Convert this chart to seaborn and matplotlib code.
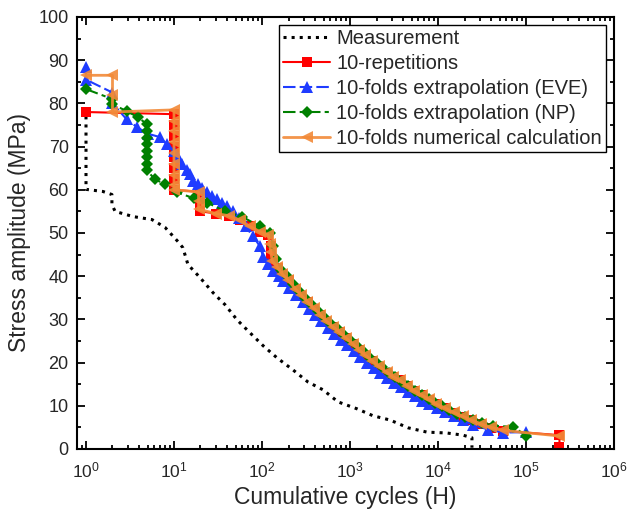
import numpy as np
import pandas as pd
import matplotlib
matplotlib.use("Agg")
import matplotlib.pyplot as plt
import matplotlib.ticker as mticker
import seaborn as sns

# values
meas_x = [1, 1, 1.56, 1.97, 1.97, 2.14, 3.42, 5.62, 7.9, 11.1, 12.6, 14.4, 19.7, 27.7, 38, 52, 73,
          103, 148, 225, 333, 493, 731, 1200, 1820, 2850, 4570, 7500, 12600, 19200, 24300, 24300]
meas_y = [77, 60.1, 59.6, 58.9, 56.6, 55.0, 53.8, 53.1, 51.3, 48.0, 46.6, 42.7, 39.7, 36.2, 33.4, 29.9, 26.9,
          23.9, 21.1, 18.3, 15.5, 13.7, 10.9, 9.3, 7.7, 6.7, 4.9, 3.9, 3.7, 3.2, 2.6, 0.3]

rep_x = [1, 10, 10, 10, 10, 10, 10, 10, 10, 20, 20, 20, 30, 42, 56, 73, 95, 118, 125, 128, 133,
         150, 170, 200, 240, 280, 330, 390, 460, 540, 640, 760, 900, 1070, 1270, 1500, 1800, 2150,
         2600, 3100, 3700, 4500, 5400, 6500, 7900, 9600, 12000, 15000, 19000, 24000, 31000, 40000,
         55000, 240000, 240000]
rep_y = [78, 77.5, 75, 72.5, 70, 67.5, 65, 62.5, 60, 59.5, 57, 55, 54.5, 54, 53, 51.5, 50.2, 49.5, 47, 45, 43.5,
         42, 40.5, 39, 37, 35.5, 34, 32.5, 31, 29.5, 28.2, 27, 25.6, 24.3, 22.8, 21.6, 20.3, 19,
         17.7, 16.6, 15.9, 14.5, 13.4, 12.4, 11.4, 10.3, 9.4, 8.4, 7.5, 6.6, 5.7, 4.9,
         4.2, 3.2, 0.4]

eve_x = [1, 1, 2, 2, 2.9, 3.8, 5, 6.9, 8.3, 10, 11.1, 12.3, 14, 15.2, 16.5, 18.7, 21, 23.6, 27, 30.6,
         35, 40, 47, 55, 65, 79, 95, 103, 118, 135, 155, 175, 205, 245, 290, 340, 400, 470, 560, 660,
         780, 920, 1100, 1300, 1550, 1850, 2200, 2650, 3150, 3800, 4600, 5500, 6600, 8000, 9700,
         12000, 15000, 19000, 25000, 37000, 55000, 100000]
eve_y = [88.5, 85.5, 82.5, 80, 76.3, 74.5, 73, 72.2, 70.5, 69, 67.7, 65.9, 64.5, 63.6, 62, 61.3, 60.5, 59.4, 58.5, 57.8,
         57, 56.2, 55, 53.5, 51.5, 49.2, 46.9, 44.5, 42.8, 41.3, 40, 38.8, 37.3, 35.6, 34, 32.5, 31, 29.6, 28.1, 26.7,
         25.3, 24, 22.6, 21.3, 20, 18.8, 17.6, 16.4, 15.3, 14.3, 13.2, 12.2, 11.2, 10.3, 9.4,
         8.5, 7.6, 6.7, 5.6, 4.5, 3.8, 3.9]

np_x = [1, 2, 2, 2.9, 3.9, 4.9, 4.9, 4.9, 4.9, 4.9, 4.9, 4.9, 4.9, 6.1, 7.9, 10.8, 17, 24, 38, 59, 95,
        123, 135, 145, 165, 190, 225, 265, 310, 365, 430, 505, 600, 710, 840, 1000, 1180, 1400, 1650,
        1950, 2300, 2750, 3250, 3850, 4600, 5500, 6500, 7800, 9300, 11000, 13500, 16500, 20000,
        25000, 32000, 42000, 72000, 100000]
np_y = [83.3, 81, 79.8, 78.2, 76.8, 75.2, 73.5, 72, 70.5, 69, 67.5, 66, 64.5, 62.4, 61.3, 59.4, 58, 57, 55, 53.8, 51.5,
        50, 47, 44, 41.5, 40, 38.2, 36.6, 35, 33.5, 32, 30.6, 29.2, 27.9, 26.6, 25.3, 24, 22.6, 21.4,
        20.1, 18.9, 17.7, 16.6, 15.6, 14.5, 13.5, 12.5, 11.6, 10.7, 9.9, 9, 8.2, 7.4,
        6.7, 6, 5.4, 5.1, 3.1]

num_x = [1, 2, 2, 2, 10, 10, 10, 10, 10, 10, 10, 10, 10, 19, 19, 19, 30, 42, 56, 73, 95, 118, 122, 126,
         131, 148, 168, 198, 238, 278, 328, 388, 458, 538, 638, 758, 898, 1068, 1268, 1498, 1798,
         2148, 2598, 3098, 3698, 4498, 5398, 6498, 7898, 9598, 11998, 14998, 18998, 23998, 30998,
         39998, 54998, 240000]
num_y = [86.5, 86.5, 82, 78, 78.5, 76, 73.5, 71, 68.5, 66, 63.5, 61, 60, 59.5, 57.5, 55.5, 54.5, 54, 53, 51.5, 50.3,
         49.6, 47.5, 45.5, 43.5, 42.2, 40.6, 39.1, 37.1, 35.6, 34.1, 32.6, 31.1, 29.6, 28.3, 27.1, 25.7,
         24.4, 22.9, 21.7, 20.4, 19.1, 17.8, 16.7, 15.9, 14.6, 13.5, 12.5, 11.5, 10.4, 9.5, 8.5,
         7.6, 6.7, 5.8, 5.0, 4.3, 3.0]

labels = ["Measurement", "10-repetitions", "10-folds extrapolation (EVE)",
          "10-folds extrapolation (NP)", "10-folds numerical calculation"]

sns.set_theme(style="ticks")
plt.rcParams["font.family"] = ["Liberation Sans", "DejaVu Sans"]
plt.rcParams["mathtext.fontset"] = "custom"
plt.rcParams["mathtext.rm"] = "Liberation Sans"

fig = plt.figure(figsize=(6.27, 5.13), dpi=100)
ax = fig.add_axes([0.1228, 0.1248, 0.8565, 0.8421])

sns.lineplot(x=meas_x, y=meas_y, sort=False, estimator=None, ax=ax, color="black",
             linestyle=":", linewidth=2.2, label=labels[0])
sns.lineplot(x=rep_x, y=rep_y, sort=False, estimator=None, ax=ax, color="#ff0000",
             linewidth=1.5, marker="s", markersize=6.5, markeredgewidth=0, label=labels[1])
sns.lineplot(x=eve_x, y=eve_y, sort=False, estimator=None, ax=ax, color="#1f3cff",
             linewidth=1.5, dashes=(6, 2), marker="^", markersize=8, markeredgewidth=0, label=labels[2])
sns.lineplot(x=np_x, y=np_y, sort=False, estimator=None, ax=ax, color="#008000",
             linewidth=1.5, dashes=(6, 2, 2, 2), marker="D", markersize=6.5, markeredgewidth=0, label=labels[3])
sns.lineplot(x=num_x, y=num_y, sort=False, estimator=None, ax=ax, color="#f28a38",
             linewidth=2, marker="<", markersize=8, markeredgewidth=0, alpha=0.9, label=labels[4])

ax.set_xscale("log")
ax.set_xlim(0.79, 1e6)
ax.set_ylim(0, 100)
ax.yaxis.set_major_locator(mticker.MultipleLocator(10))
ax.yaxis.set_minor_locator(mticker.MultipleLocator(5))
ax.xaxis.set_major_locator(mticker.LogLocator(base=10, numticks=10))
ax.xaxis.set_minor_locator(mticker.LogLocator(base=10, subs=np.arange(2, 10), numticks=20))
ax.xaxis.set_minor_formatter(mticker.NullFormatter())

for s in ax.spines.values():
    s.set_visible(True)
    s.set_linewidth(1.5)
    s.set_color("black")
ax.tick_params(which="both", direction="in", top=True, right=True, width=1.3, color="black")
ax.tick_params(which="major", length=6)
ax.tick_params(which="minor", length=3)
ax.tick_params(axis="y", labelsize=13, pad=6)
ax.tick_params(axis="x", labelsize=12.5, pad=8)

ax.set_xlabel("Cumulative cycles (H)", fontsize=16.5, labelpad=4)
ax.set_ylabel("Stress amplitude (MPa)", fontsize=16.5, labelpad=5)

leg = ax.legend(loc="upper right", fontsize=14.5, frameon=True, fancybox=False, framealpha=1,
                edgecolor="black", borderpad=0.2, labelspacing=0.3, handlelength=2.35,
                handletextpad=0.3, borderaxespad=0.4)
leg.get_frame().set_linewidth(1.0)

fig.savefig("out.png", dpi=100)
